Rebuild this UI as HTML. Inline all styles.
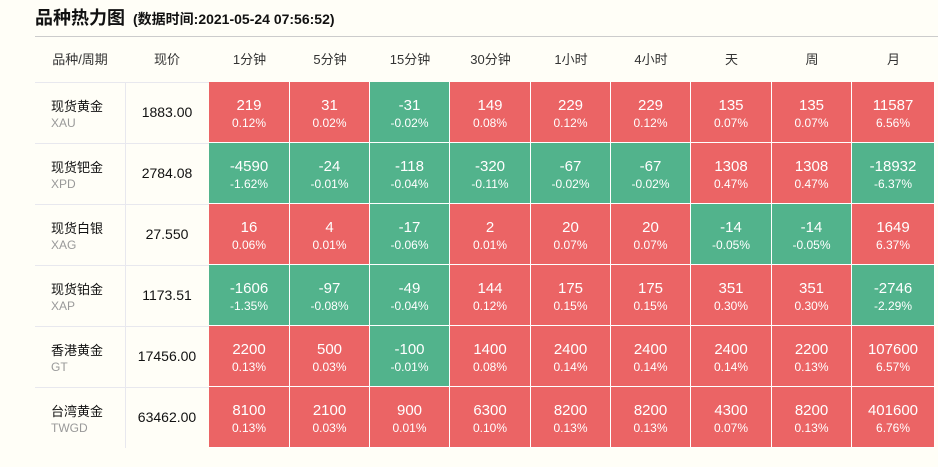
<!DOCTYPE html><html><head><meta charset="utf-8"><style>
body{margin:0;width:938px;height:467px;background:#fffef7;font-family:"Liberation Sans","Noto Sans CJK SC",sans-serif;position:relative;overflow:hidden}
.a{position:absolute}
.t{left:35px;top:4px;font-size:18px;font-weight:bold;color:#111}
.t span{font-size:14px;margin-left:8px}
.h{top:37px;height:45px;line-height:45px;font-size:13px;color:#333;text-align:center}
.c{box-sizing:border-box;border-right:1px solid #fff;border-bottom:1px solid #fff;color:#fff;text-align:center}
.r{background:#eb6465}.g{background:#52b38c}
.v{font-size:15px;margin-top:15px;line-height:18px}
.p{font-size:12px;line-height:16px}
.n{font-size:13px;color:#111;left:51px}
.k{font-size:12px;color:#999;left:51px}
.pr{font-size:14px;color:#111;text-align:center;left:125px;width:84px}
</style></head><body>
<div class="a t">品种热力图<span>(数据时间:2021-05-24 07:56:52)</span></div>
<div class="a" style="left:35px;top:36px;width:903px;height:1px;background:#ccc"></div>
<div id="g"></div>
<script>
const cols=[209,290,370,450,531,611,691,772,852,935];
const rows=[82,143,204,265,326,387,448];
const heads=["1分钟","5分钟","15分钟","30分钟","1小时","4小时","天","周","月"];
let h='';
h+=`<div class="a h" style="left:35px;width:90px">品种/周期</div><div class="a h" style="left:125px;width:84px">现价</div>`;
heads.forEach((t,i)=>h+=`<div class="a h" style="left:${cols[i]}px;width:${cols[i+1]-cols[i]}px">${t}</div>`);
const d=[
["现货黄金","XAU","1883.00",[["219","0.12%"],["31","0.02%"],["-31","-0.02%"],["149","0.08%"],["229","0.12%"],["229","0.12%"],["135","0.07%"],["135","0.07%"],["11587","6.56%"]]],
["现货钯金","XPD","2784.08",[["-4590","-1.62%"],["-24","-0.01%"],["-118","-0.04%"],["-320","-0.11%"],["-67","-0.02%"],["-67","-0.02%"],["1308","0.47%"],["1308","0.47%"],["-18932","-6.37%"]]],
["现货白银","XAG","27.550",[["16","0.06%"],["4","0.01%"],["-17","-0.06%"],["2","0.01%"],["20","0.07%"],["20","0.07%"],["-14","-0.05%"],["-14","-0.05%"],["1649","6.37%"]]],
["现货铂金","XAP","1173.51",[["-1606","-1.35%"],["-97","-0.08%"],["-49","-0.04%"],["144","0.12%"],["175","0.15%"],["175","0.15%"],["351","0.30%"],["351","0.30%"],["-2746","-2.29%"]]],
["香港黄金","GT","17456.00",[["2200","0.13%"],["500","0.03%"],["-100","-0.01%"],["1400","0.08%"],["2400","0.14%"],["2400","0.14%"],["2400","0.14%"],["2200","0.13%"],["107600","6.57%"]]],
["台湾黄金","TWGD","63462.00",[["8100","0.13%"],["2100","0.03%"],["900","0.01%"],["6300","0.10%"],["8200","0.13%"],["8200","0.13%"],["4300","0.07%"],["8200","0.13%"],["401600","6.76%"]]]];
d.forEach((r,j)=>{const y=rows[j],hh=rows[j+1]-y;
h+=`<div class="a" style="left:35px;top:${y}px;width:174px;height:1px;background:#e8e8ee"></div>`;
h+=`<div class="a" style="left:125px;top:${y}px;width:1px;height:${hh}px;background:#e8e8ee"></div>`;
h+=`<div class="a n" style="top:${y+14}px">${r[0]}</div><div class="a k" style="top:${y+34}px">${r[1]}</div><div class="a pr" style="top:${y+22}px">${r[2]}</div>`;
r[3].forEach((c,i)=>{h+=`<div class="a c ${c[0][0]=='-'?'g':'r'}" style="left:${cols[i]}px;top:${y}px;width:${cols[i+1]-cols[i]}px;height:${hh}px"><div class="v">${c[0]}</div><div class="p">${c[1]}</div></div>`});});
document.getElementById('g').innerHTML=h;
</script>
</body></html>
